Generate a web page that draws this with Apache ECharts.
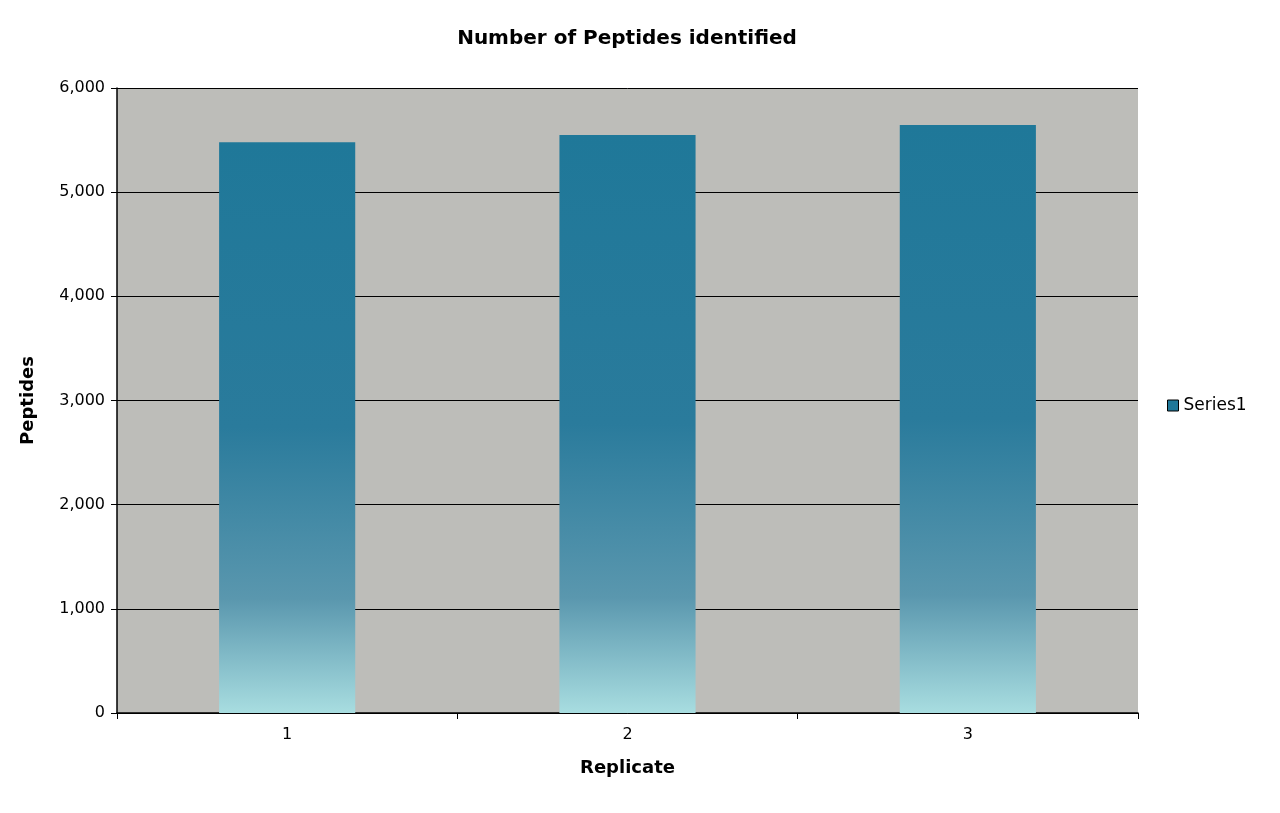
<!DOCTYPE html>
<html><head><meta charset="utf-8">
<script src="https://cdn.jsdelivr.net/npm/echarts@6/dist/echarts.min.js"></script>
<style>html,body{margin:0;padding:0;background:#fff}#c{width:1280px;height:813px}</style>
</head><body><div id="c"></div>
<script>
const categories = ['1', '2', '3'];
const seriesValues = [5480, 5550, 5645];
const yTicks = [0, 1000, 2000, 3000, 4000, 5000, 6000];
const chart = echarts.init(document.getElementById('c'));
const ff = 'Verdana, "DejaVu Sans", sans-serif';
chart.setOption({
  animation: false,
  title: {text: 'Number of Peptides identified', left: 622, top: 24, textAlign: 'center',
    textStyle: {fontFamily: ff, fontSize: 20, fontWeight: 'bold', color: '#000'}},
  legend: {data: ['Series1'], left: 1162, top: 392, itemWidth: 11, itemHeight: 11, itemGap: 4,
    icon: 'rect', textStyle: {fontFamily: ff, fontSize: 17, color: '#000'},
    itemStyle: {borderColor: '#000', borderWidth: 1, color: '#1f7899'}},
  grid: {left: 117, top: 88, width: 1021, height: 625, backgroundColor: '#bdbdb9', show: true, borderWidth: 0},
  xAxis: {type: 'category', data: categories, name: 'Replicate', nameLocation: 'middle', nameGap: 46,
    nameTextStyle: {fontFamily: ff, fontSize: 18, fontWeight: 'bold', color: '#000'},
    axisLine: {lineStyle: {color: '#000', width: 1.5}},
    axisTick: {show: true, length: 6, lineStyle: {color: '#000'}},
    axisLabel: {fontFamily: ff, fontSize: 16, color: '#000', margin: 14}},
  yAxis: {type: 'value', min: yTicks[0], max: yTicks[yTicks.length - 1], interval: 1000,
    name: 'Peptides', nameLocation: 'middle', nameGap: 80,
    nameTextStyle: {fontFamily: ff, fontSize: 18, fontWeight: 'bold', color: '#000'},
    axisLine: {show: true, lineStyle: {color: '#000', width: 1.5}},
    axisTick: {show: true, length: 6, inside: false, lineStyle: {color: '#000'}},
    axisLabel: {fontFamily: ff, fontSize: 16, color: '#000', margin: 12},
    splitLine: {lineStyle: {color: '#000', width: 1}}},
  series: [{name: 'Series1', type: 'bar', data: seriesValues, barWidth: '40%',
    itemStyle: {color: new echarts.graphic.LinearGradient(0, 0, 0, 1, [
      {offset: 0, color: '#1f7899'}, {offset: 0.5, color: '#2a7b9c'},
      {offset: 0.8, color: '#5a97ae'}, {offset: 1, color: '#a8dde0'}])}}]
});
</script></body></html>
